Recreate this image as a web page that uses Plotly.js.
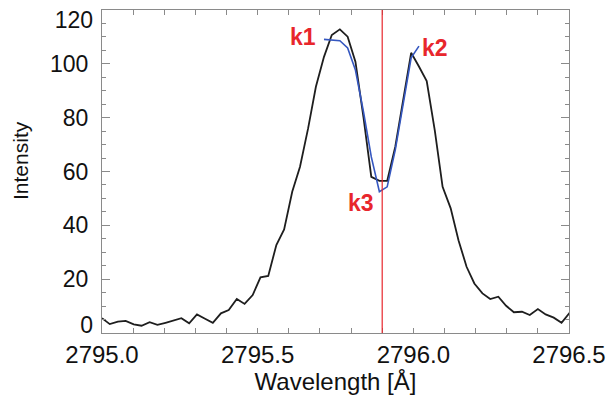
<!DOCTYPE html>
<html>
<head>
<meta charset="utf-8">
<script src="https://cdn.plot.ly/plotly-3.0.1.min.js"></script>
<style>html,body{margin:0;padding:0;background:#fff;}#chart{width:613px;height:402px;}</style>
</head>
<body>
<div id="chart"></div>
<script>
const wavelength = [2795.000,2795.025,2795.051,2795.076,2795.102,2795.127,2795.153,2795.178,2795.204,2795.229,
  2795.255,2795.280,2795.305,2795.331,2795.356,2795.382,2795.407,2795.433,2795.458,2795.484,
  2795.509,2795.534,2795.560,2795.585,2795.611,2795.636,2795.662,2795.687,2795.713,2795.738,
  2795.764,2795.789,2795.814,2795.840,2795.865,2795.891,2795.916,2795.942,2795.967,2795.993,
  2796.018,2796.043,2796.069,2796.094,2796.120,2796.145,2796.171,2796.196,2796.222,2796.247,
  2796.273,2796.298,2796.323,2796.349,2796.374,2796.400,2796.425,2796.451,2796.476,2796.502];
const intensity = [5.5,3.3,4.2,4.5,3.2,2.7,4.0,3.0,3.8,4.6,
  5.5,3.6,6.9,5.3,3.8,7.3,8.5,12.6,10.8,14.1,
  20.7,21.2,32.7,38.5,52.5,61.8,76.0,91.5,102.6,110.7,
  112.8,110.1,100.8,80.0,58.0,56.5,56.5,69.2,86.5,104.1,
  99.0,93.6,75.2,54.3,46.3,34.5,24.6,18.4,14.7,12.6,
  13.5,10.1,7.7,7.9,6.7,8.9,6.9,5.7,3.8,7.5];
const fitWavelength = [2795.713,2795.738,2795.764,2795.789,2795.814,2795.840,2795.865,2795.891,2795.916,2795.942,2795.967,2795.993,2796.018];
const fitIntensity = [109.1,108.8,108.6,105.9,97.7,82.1,65.4,52.5,54.3,68.0,85.3,102.2,106.6];
const refWavelength = 2795.9;
const labelText = ['k1','k2','k3'];
const labelX = [2795.644,2796.069,2795.832];
const labelY = [109.8,105.9,48.3];
const xTickVals = [2795.0,2795.5,2796.0,2796.5];
const xTickText = ['2795.0','2795.5','2796.0','2796.5'];
const yTickVals = [20,40,60,80,100];
const yTickText = ['20','40','60','80','100'];
const yBottomVal = [0], yBottomText = ['0'];
const yTopVal = [120], yTopText = ['120'];

const FONT = 'Liberation Sans, Arial, Helvetica, sans-serif';
const frame = '#8a8a8a';

const traces = [
  {x: wavelength, y: intensity, type: 'scatter', mode: 'lines',
   line: {color: '#1e1e1e', width: 1.8}, hoverinfo: 'skip'},
  {x: fitWavelength, y: fitIntensity, type: 'scatter', mode: 'lines',
   line: {color: '#3557c0', width: 1.6}, hoverinfo: 'skip'},
  {x: [], y: [], yaxis: 'y2', type: 'scatter'},
  {x: [], y: [], yaxis: 'y3', type: 'scatter'}
];

const annotations = labelText.map((t, i) => ({
  x: labelX[i], y: labelY[i], xref: 'x', yref: 'y', text: '<b>' + t + '</b>',
  showarrow: false, font: {family: FONT, size: 23, color: '#e8262c'}
}));
annotations.push({
  x: -0.1756, y: 0.5356, xref: 'paper', yref: 'paper', xanchor: 'center', yanchor: 'middle',
  text: 'Intensity', textangle: -90, showarrow: false,
  font: {family: FONT, size: 21, color: '#111'}
});

const yOverlay = {
  overlaying: 'y', side: 'left', showline: false, showgrid: false,
  zeroline: false, ticks: '', tickfont: {family: FONT, size: 23, color: '#111'}, ticklabelstandoff: 8
};

const layout = {
  width: 613, height: 402,
  margin: {l: 102, r: 44, t: 10, b: 69},
  paper_bgcolor: '#fff', plot_bgcolor: '#fff',
  showlegend: false,
  xaxis: {
    range: [2795.0, 2796.5], tickvals: xTickVals, ticktext: xTickText,
    ticks: 'inside', ticklen: 5, tickcolor: frame, tickwidth: 1,
    minor: {dtick: 0.1, tick0: 2795.0, ticks: 'inside', ticklen: 5, tickcolor: frame},
    showline: true, linecolor: frame, linewidth: 1, mirror: 'allticks',
    showgrid: false, zeroline: false,
    tickfont: {family: FONT, size: 24, color: '#111'},
    title: {text: 'Wavelength [Å]', font: {family: FONT, size: 24, color: '#111'}, standoff: 4}
  },
  yaxis: {
    range: [0, 120], tickvals: yTickVals, ticktext: yTickText,
    ticks: 'inside', ticklen: 8, tickcolor: frame, tickwidth: 1,
    minor: {dtick: 5, tick0: 0, ticks: 'inside', ticklen: 4, tickcolor: frame},
    showline: true, linecolor: frame, linewidth: 1, mirror: 'allticks',
    showgrid: false, zeroline: false, ticklabelstandoff: 8,
    tickfont: {family: FONT, size: 23, color: '#111'}
  },
  yaxis2: Object.assign({}, yOverlay, {range: [-3, 117], tickvals: yBottomVal, ticktext: yBottomText}),
  yaxis3: Object.assign({}, yOverlay, {range: [3.7, 123.7], tickvals: yTopVal, ticktext: yTopText}),
  shapes: [{
    type: 'line', xref: 'x', yref: 'paper', x0: refWavelength, x1: refWavelength, y0: 0, y1: 1,
    line: {color: '#e8262c', width: 1.2}
  }],
  annotations: annotations
};

Plotly.newPlot('chart', traces, layout, {staticPlot: true, displayModeBar: false});
</script>
</body>
</html>
